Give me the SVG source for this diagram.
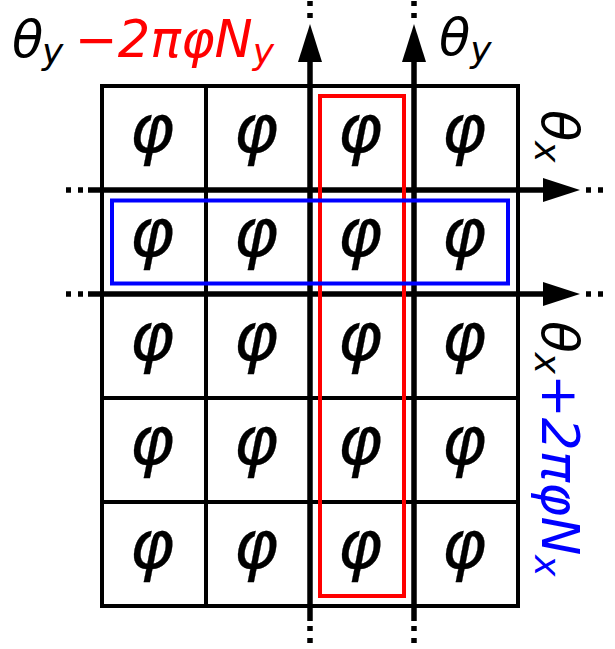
<svg xmlns="http://www.w3.org/2000/svg" width="615" height="649" viewBox="0 0 615 649">
<style>
.grid{fill:none;stroke:#000;stroke-width:4}
.axis{fill:none;stroke:#000;stroke-width:5.5}
.dots{fill:none;stroke:#000;stroke-width:5.5;stroke-dasharray:5 7}
.head{fill:#000}
.phi{font-family:"DejaVu Sans",sans-serif;font-style:italic;font-size:68px;text-anchor:middle;fill:#000;stroke:#000;stroke-width:0.3}
.lbl{font-family:"DejaVu Sans",sans-serif;font-style:italic;font-size:51px;fill:#000}
.sub{font-size:36px}
</style>
<rect width="615" height="649" fill="#fff"/>
<g id="grid">
<rect class="grid" x="102" y="86" width="416" height="520"/>
<line class="grid" x1="206" y1="86" x2="206" y2="606"/>
<line class="grid" x1="102" y1="398" x2="518" y2="398"/>
<line class="grid" x1="102" y1="502" x2="518" y2="502"/>
</g>
<g id="cells">
<g id="row1"><text class="phi" x="152" y="152">φ</text><text class="phi" x="256" y="152">φ</text><text class="phi" x="360" y="152">φ</text><text class="phi" x="464" y="152">φ</text></g>
<g id="row2"><text class="phi" x="152" y="256">φ</text><text class="phi" x="256" y="256">φ</text><text class="phi" x="360" y="256">φ</text><text class="phi" x="464" y="256">φ</text></g>
<g id="row3"><text class="phi" x="152" y="360">φ</text><text class="phi" x="256" y="360">φ</text><text class="phi" x="360" y="360">φ</text><text class="phi" x="464" y="360">φ</text></g>
<g id="row4"><text class="phi" x="152" y="464">φ</text><text class="phi" x="256" y="464">φ</text><text class="phi" x="360" y="464">φ</text><text class="phi" x="464" y="464">φ</text></g>
<g id="row5"><text class="phi" x="152" y="568">φ</text><text class="phi" x="256" y="568">φ</text><text class="phi" x="360" y="568">φ</text><text class="phi" x="464" y="568">φ</text></g>
</g>
<g id="connectors">
<line class="axis" x1="310" y1="621" x2="310" y2="60"/>
<polygon class="head" points="310,24 298,62 322,62"/>
<line class="dots" x1="310" y1="1" x2="310" y2="20"/>
<line class="dots" x1="310" y1="626" x2="310" y2="645"/>
<line class="axis" x1="414" y1="621" x2="414" y2="60"/>
<polygon class="head" points="414,24 402,62 426,62"/>
<line class="dots" x1="414" y1="1" x2="414" y2="20"/>
<line class="dots" x1="414" y1="626" x2="414" y2="645"/>
<line class="axis" x1="88" y1="190" x2="545" y2="190"/>
<polygon class="head" points="580,190 543,178 543,202"/>
<line class="dots" x1="66" y1="190" x2="85" y2="190"/>
<line class="dots" x1="586" y1="190" x2="605" y2="190"/>
<line class="axis" x1="88" y1="294" x2="545" y2="294"/>
<polygon class="head" points="580,294 543,282 543,306"/>
<line class="dots" x1="66" y1="294" x2="85" y2="294"/>
<line class="dots" x1="586" y1="294" x2="605" y2="294"/>
</g>
<g id="red-column">
<rect x="320" y="96" width="84" height="500" fill="none" stroke="#ff0000" stroke-width="4"/>
</g>
<g id="blue-row">
<rect x="112" y="200.5" width="396" height="83" fill="none" stroke="#0000ff" stroke-width="4"/>
</g>
<g id="labels">
<text class="lbl" x="12" y="57">θ<tspan class="sub" x="42" dy="7">y</tspan><tspan dy="-7" fill="#ff0000" x="75">−2πφN</tspan><tspan class="sub" fill="#ff0000" dy="7">y</tspan></text>
<text class="lbl" x="439" y="55">θ<tspan class="sub" dy="7">y</tspan></text>
<text class="lbl" transform="translate(542,110) rotate(90)" x="0" y="0">θ<tspan class="sub" dy="7">x</tspan></text>
<text class="lbl" transform="translate(542,321) rotate(90)" x="0" y="0" style="font-size:52px">θ<tspan class="sub" dy="7">x</tspan><tspan fill="#0000ff" dy="-7">+2πφN</tspan><tspan class="sub" fill="#0000ff" dy="7">x</tspan></text>
</g>
</svg>
